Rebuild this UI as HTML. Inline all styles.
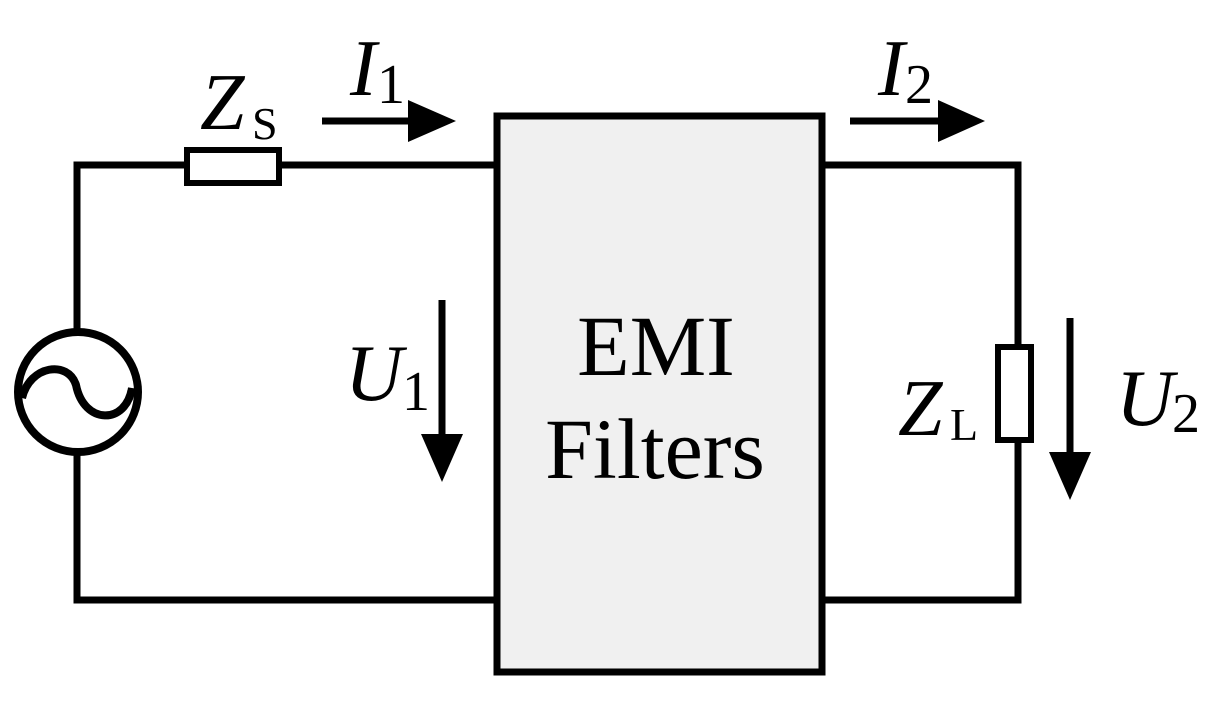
<!DOCTYPE html>
<html><head><style>body{margin:0;background:#fff}svg{display:block}</style></head><body>
<svg width="1222" height="702" viewBox="0 0 1222 702" xmlns="http://www.w3.org/2000/svg">
<g fill="none" stroke="#000" stroke-width="7">
<path d="M77 330 V165 H187 M279 165 H497 M77 455 V600 H497"/>
<rect x="187" y="150" width="92" height="33" stroke-width="6"/>
<circle cx="78" cy="392" r="60" stroke-width="8"/>
<path d="M22 398 C30 365 68 360 76 385 C84 425 126 425 132 388" stroke-width="8"/>
<path d="M822 165 H1018 V347 M1018 440 V600 H822"/>
<rect x="998" y="347" width="33" height="93" stroke-width="6"/>
<rect x="497" y="116" width="325" height="556" fill="#f0f0f0" stroke-width="7"/>
<path d="M322 121 H412 M850 121 H942 M442 300 V438 M1070 318 V456"/>
</g>
<g fill="#000">
<polygon points="408,100 456,121 408,142"/>
<polygon points="938,100 985,121 938,142"/>
<polygon points="421,434 463,434 442,482"/>
<polygon points="1049,452 1091,452 1070,500"/>
</g>
<g font-family="Liberation Serif, serif" fill="#000">
<text x="200" y="129" font-size="80" font-style="italic">Z</text><text x="252" y="139" font-size="46">S</text>
<text x="350" y="95" font-size="80" font-style="italic">I</text><text x="377" y="103" font-size="56">1</text>
<text x="878" y="95" font-size="80" font-style="italic">I</text><text x="905" y="103" font-size="56">2</text>
<text x="345" y="400" font-size="80" font-style="italic">U</text><text x="402" y="410" font-size="56">1</text>
<text x="1116" y="425" font-size="80" font-style="italic">U</text><text x="1172" y="432" font-size="56">2</text>
<text x="898" y="435" font-size="80" font-style="italic">Z</text><text x="950" y="440" font-size="46">L</text>
<text x="656" y="375" font-size="86" text-anchor="middle">EMI</text>
<text x="655" y="478" font-size="86" text-anchor="middle">Filters</text>
</g>
</svg>
</body></html>
